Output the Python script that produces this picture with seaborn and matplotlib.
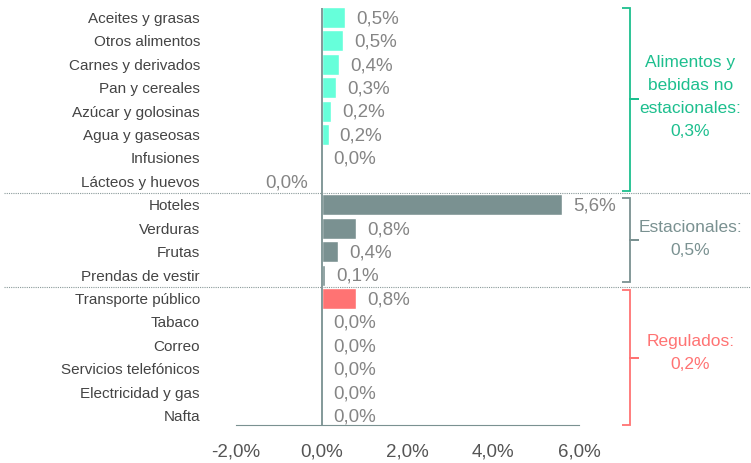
import matplotlib
matplotlib.use("Agg")
import matplotlib.pyplot as plt
import matplotlib.transforms as mtransforms
from matplotlib.path import Path
from matplotlib.patches import PathPatch
import seaborn as sns
import pandas as pd

# datos
categorias = ['Aceites y grasas', 'Otros alimentos', 'Carnes y derivados', 'Pan y cereales',
              'Azúcar y golosinas', 'Agua y gaseosas', 'Infusiones', 'Lácteos y huevos',
              'Hoteles', 'Verduras', 'Frutas', 'Prendas de vestir',
              'Transporte público', 'Tabaco', 'Correo', 'Servicios telefónicos',
              'Electricidad y gas', 'Nafta']
valores = [0.54, 0.5, 0.4, 0.33, 0.22, 0.16, 0.01, -0.02,
           5.6, 0.8, 0.38, 0.08,
           0.8, 0.0, 0.0, 0.0, 0.0, 0.0]
grupos = ['alim'] * 8 + ['estac'] * 4 + ['regul'] * 6
grupo_textos = {'alim': 'Alimentos y\nbebidas no\nestacionales:\n0,3%',
                'estac': 'Estacionales:\n0,5%',
                'regul': 'Regulados:\n0,2%'}
colores_barra = {'alim': '#66FFDA', 'estac': '#7A9191', 'regul': '#FF7373'}
colores_texto = {'alim': '#1DBF8E', 'estac': '#7A9191', 'regul': '#FF7373'}

df = pd.DataFrame({'cat': categorias, 'val': valores, 'grupo': grupos})

sns.set_style("white")
plt.rcParams['font.family'] = ['Liberation Sans', 'DejaVu Sans']

fig = plt.figure(figsize=(7.51, 4.63), dpi=100)
ax = fig.add_axes([236 / 751, 1 - 425 / 463, (579 - 236) / 751, (425 - 8) / 463])

sns.barplot(data=df, x='val', y='cat', hue='grupo', palette=colores_barra,
            dodge=False, width=0.9, legend=False, ax=ax, orient='h', saturation=1)

ax.set_xlim(-2, 6)
ax.set_ylim(len(categorias) - 0.6, -0.4)
ax.set_xticks([-2, 0, 2, 4, 6])
ax.set_xticklabels(['-2,0%', '0,0%', '2,0%', '4,0%', '6,0%'])
ax.set_xlabel('')
ax.set_ylabel('')
ax.tick_params(axis='x', length=0, pad=13, labelsize=13.5, labelcolor='#555555')
ax.tick_params(axis='y', length=0, pad=26, labelsize=11, labelcolor='#444444')
for s in ['top', 'right', 'left']:
    ax.spines[s].set_visible(False)
ax.spines['bottom'].set_color('#7A9191')
ax.axvline(0, color='#7A9191', lw=1.3)

# etiquetas de valores
for i, v in enumerate(valores):
    txt = f"{round(v, 1) + 0.0:.1f}%".replace('.', ',')
    if v < 0:
        ax.annotate(txt, (v, i), xytext=(-9, -1), textcoords='offset points',
                    ha='right', va='center', fontsize=13.5, color='#858585')
    else:
        ax.annotate(txt, (v, i), xytext=(8, -1), textcoords='offset points',
                    ha='left', va='center', fontsize=13.5, color='#858585')

# separadores punteados
trans = mtransforms.blended_transform_factory(fig.transFigure, ax.transData)
for yy in [7.5, 11.5]:
    ax.plot([0.005, 1.0], [yy, yy], transform=trans, color='#8A9A9A',
            lw=0.8, ls=(0, (1, 1)), clip_on=False)

# llaves
def llave(y0, y1, color):
    x0, x1 = 7.0, 7.2
    xm = (y0 + y1) / 2
    verts = [(x0, y0), (x1, y0), (x1, xm), (x1 + 0.2, xm), (x1, xm), (x1, y1), (x0, y1)]
    codes = [Path.MOVETO] + [Path.LINETO] * 6
    ax.add_patch(PathPatch(Path(verts, codes), fill=False, edgecolor=color,
                           lw=1.3, clip_on=False))

rangos = {'alim': (-0.4, 7.4), 'estac': (7.7, 11.3), 'regul': (11.65, 17.4)}
ajuste_texto = {'alim': -0.1, 'estac': -0.05, 'regul': -0.2}
for g, (y0, y1) in rangos.items():
    llave(y0, y1, colores_texto[g])
    ax.text(8.6, (y0 + y1) / 2 + ajuste_texto[g], grupo_textos[g], ha='center', va='center',
            fontsize=12.5, color=colores_texto[g], linespacing=1.65, clip_on=False)

fig.savefig('out.png', dpi=100)
